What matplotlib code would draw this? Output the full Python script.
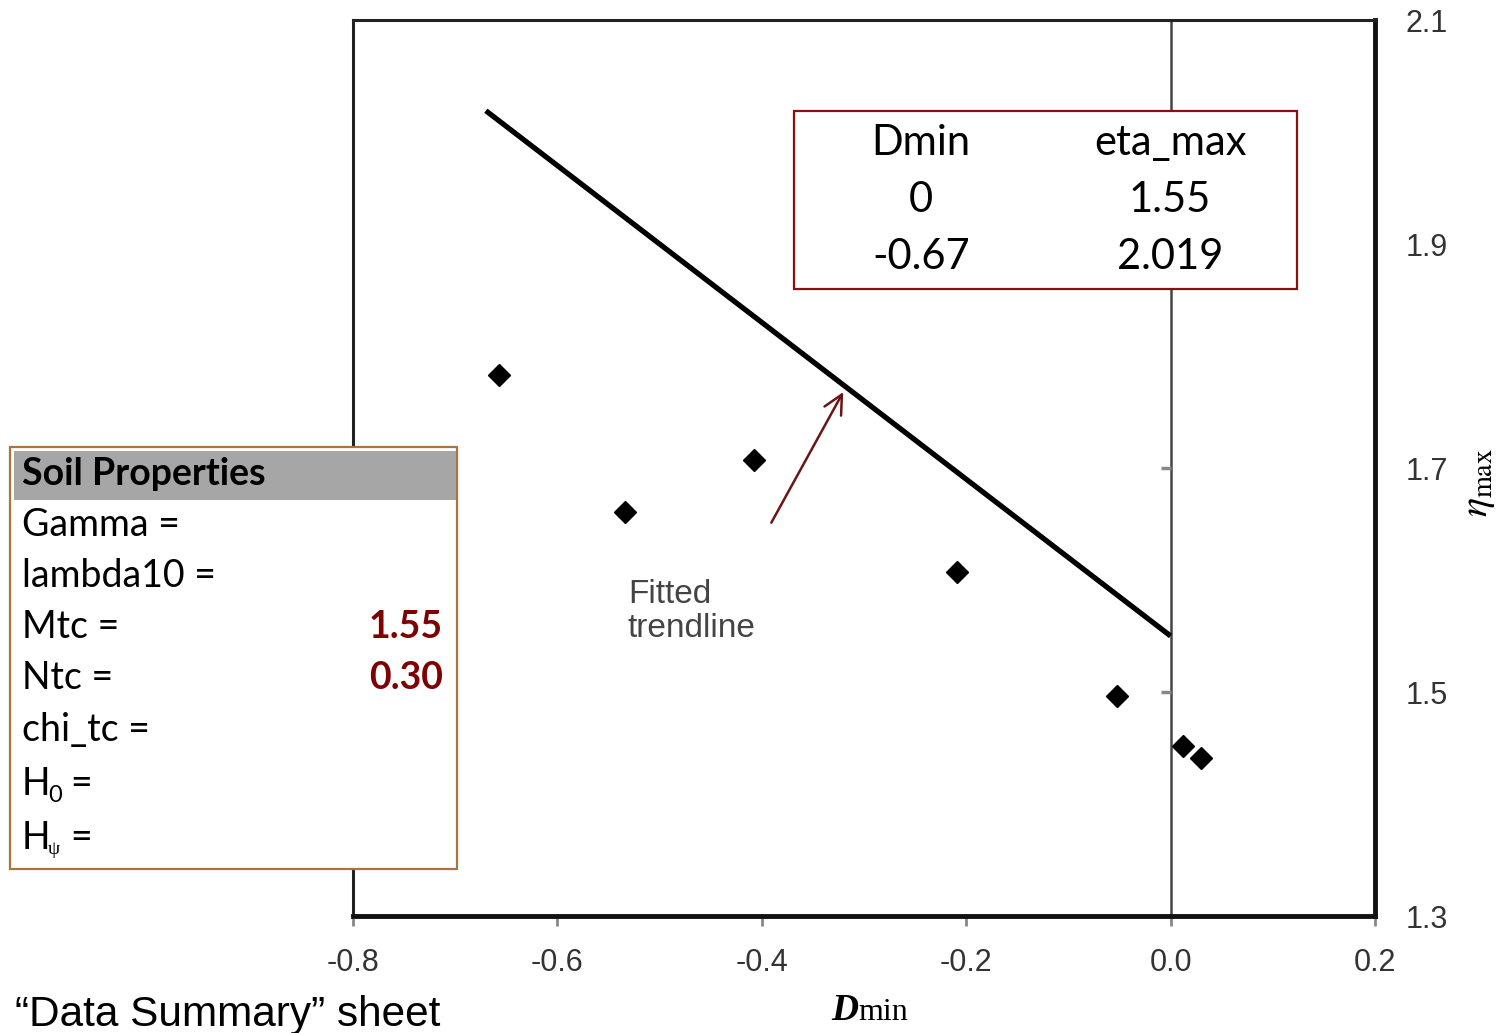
import matplotlib

matplotlib.use("Agg")
import matplotlib.pyplot as plt
from matplotlib.patches import Rectangle

plt.rcParams["font.family"] = ["Liberation Sans", "DejaVu Sans"]

# ── data ──────────────────────────────────────────────────────────────────────
dmin = [-0.657, -0.534, -0.408, -0.209, -0.052, 0.012, 0.030]
eta_max = [1.783, 1.661, 1.707, 1.607, 1.496, 1.452, 1.441]

trend_x = [-0.67, 0.0]
trend_y = [2.019, 1.55]

arrow_tail = (-0.392, 1.649)
arrow_head = (-0.319, 1.770)

x_ticks = [-0.8, -0.6, -0.4, -0.2, 0.0, 0.2]
y_ticks = [1.3, 1.5, 1.7, 1.9, 2.1]

table_header = ["Dmin", "eta_max"]
table_rows = [["0", "1.55"], ["-0.67", "2.019"]]

soil_labels = ["Gamma =", "lambda10 =", "Mtc =", "Ntc =", "chi_tc ="]
soil_values = ["", "", "1.55", "0.30", ""]

W, H = 1499, 1033


def fx(x):
    return x / W


def fy(y):
    return 1 - y / H


fig = plt.figure(figsize=(W / 100, H / 100), dpi=100)
ax = fig.add_axes([fx(353), fy(916), fx(1375) - fx(353), fy(20) - fy(916)])

ax.set_xlim(-0.8, 0.2)
ax.set_ylim(1.3, 2.1)

# frame, excel style: heavier right / bottom edge
for side in ("left", "top"):
    ax.spines[side].set_linewidth(2.2)
    ax.spines[side].set_color("#222222")
for side in ("right", "bottom"):
    ax.spines[side].set_linewidth(3.5)
    ax.spines[side].set_color("#111111")

ax.set_xticks(x_ticks)
ax.set_xticklabels([f"{v:.1f}" for v in x_ticks])
ax.tick_params(axis="x", direction="out", length=7, width=2, color="#888888",
               labelsize=22, labelcolor="#333333", pad=16)

ax.yaxis.tick_right()
ax.set_yticks(y_ticks)
ax.set_yticklabels([f"{v:.1f}" for v in y_ticks])
ax.tick_params(axis="y", length=0, labelsize=22, labelcolor="#333333", pad=22)

# vertical axis at x = 0 with small ticks on its left
ax.axvline(0, color="#444444", lw=1.8, zorder=2)
for yt in y_ticks[1:-1]:
    ax.plot([-0.009, 0], [yt, yt], color="#888888", lw=2.5, zorder=2,
            solid_capstyle="butt")

ax.plot(trend_x, trend_y, color="black", lw=3.8, zorder=3, solid_capstyle="butt")
ax.plot(dmin, eta_max, linestyle="none", marker="D", markersize=11,
        color="black", zorder=4)

ax.annotate("", xy=arrow_head, xytext=arrow_tail,
            arrowprops=dict(arrowstyle="->", color="#6b1515", lw=1.8,
                            mutation_scale=34))
ax.text(-0.531, 1.543, "Fitted\ntrendline", fontsize=24, color="#444444",
        ha="left", va="bottom", linespacing=1.1)

# axis labels
fig.text(fx(858), fy(1020), "D", family="Liberation Serif", fontsize=27,
         fontstyle="italic", fontweight="bold", ha="right", va="baseline")
fig.text(fx(858), fy(1020), "min", family="Liberation Serif", fontsize=23,
         ha="left", va="baseline")
fig.text(fx(1478), fy(482), r"$\eta_{\mathrm{max}}$", fontsize=29,
         math_fontfamily="stix", rotation=90, ha="center", va="center")

# ── table box, upper right ───────────────────────────────────────────────────
fig.add_artist(Rectangle((fx(794), fy(289)), fx(1297) - fx(794), fy(111) - fy(289),
                         transform=fig.transFigure, facecolor="white",
                         edgecolor="#8b0f0f", lw=1.6, zorder=5))
col_x = [921, 1170]
row_y = [143, 200, 257]
for cx, head in zip(col_x, table_header):
    fig.text(fx(cx), fy(row_y[0]), head, family="Lato", fontsize=30,
             ha="center", va="center", zorder=6)
for ry, row in zip(row_y[1:], table_rows):
    for cx, val in zip(col_x, row):
        fig.text(fx(cx), fy(ry), val, family="Lato", fontsize=30,
                 ha="center", va="center", zorder=6)

# ── soil properties box, left ────────────────────────────────────────────────
fig.add_artist(Rectangle((fx(10), fy(869)), fx(457) - fx(10), fy(447) - fy(869),
                         transform=fig.transFigure, facecolor="white",
                         edgecolor="#a87440", lw=1.6, zorder=5))
fig.add_artist(Rectangle((fx(14), fy(500)), fx(456) - fx(14), fy(451) - fy(500),
                         transform=fig.transFigure, facecolor="#a6a6a6",
                         edgecolor="none", zorder=5))
fig.text(fx(22), fy(474), "Soil Properties", family="Lato", fontsize=27,
         fontweight="bold", ha="left", va="center", zorder=6)

soil_y = [525, 576, 627, 678, 730]
for sy, lab, val in zip(soil_y, soil_labels, soil_values):
    fig.text(fx(22), fy(sy), lab, family="Lato", fontsize=27,
             ha="left", va="center", zorder=6)
    if val:
        fig.text(fx(443), fy(sy), val, family="Lato", fontsize=27,
                 fontweight="bold", color="#7f0000", ha="right", va="center",
                 zorder=6)

# H0 and Hpsi rows with small subscripts
fig.text(fx(22), fy(784), "H", family="Lato", fontsize=27, ha="left",
         va="center", zorder=6)
fig.text(fx(48), fy(796), "0", family="Lato", fontsize=17, ha="left",
         va="center", zorder=6)
fig.text(fx(70), fy(784), "=", family="Lato", fontsize=27, ha="left",
         va="center", zorder=6)
fig.text(fx(22), fy(838), "H", family="Lato", fontsize=27, ha="left",
         va="center", zorder=6)
fig.text(fx(48), fy(850), "\u03c8", family="Liberation Serif", fontsize=14,
         ha="left", va="center", zorder=6)
fig.text(fx(70), fy(838), "=", family="Lato", fontsize=27, ha="left",
         va="center", zorder=6)

fig.text(fx(15), fy(1026), "\u201cData Summary\u201d sheet", fontsize=30.5,
         ha="left", va="baseline")

fig.savefig("out.png", dpi=100)
